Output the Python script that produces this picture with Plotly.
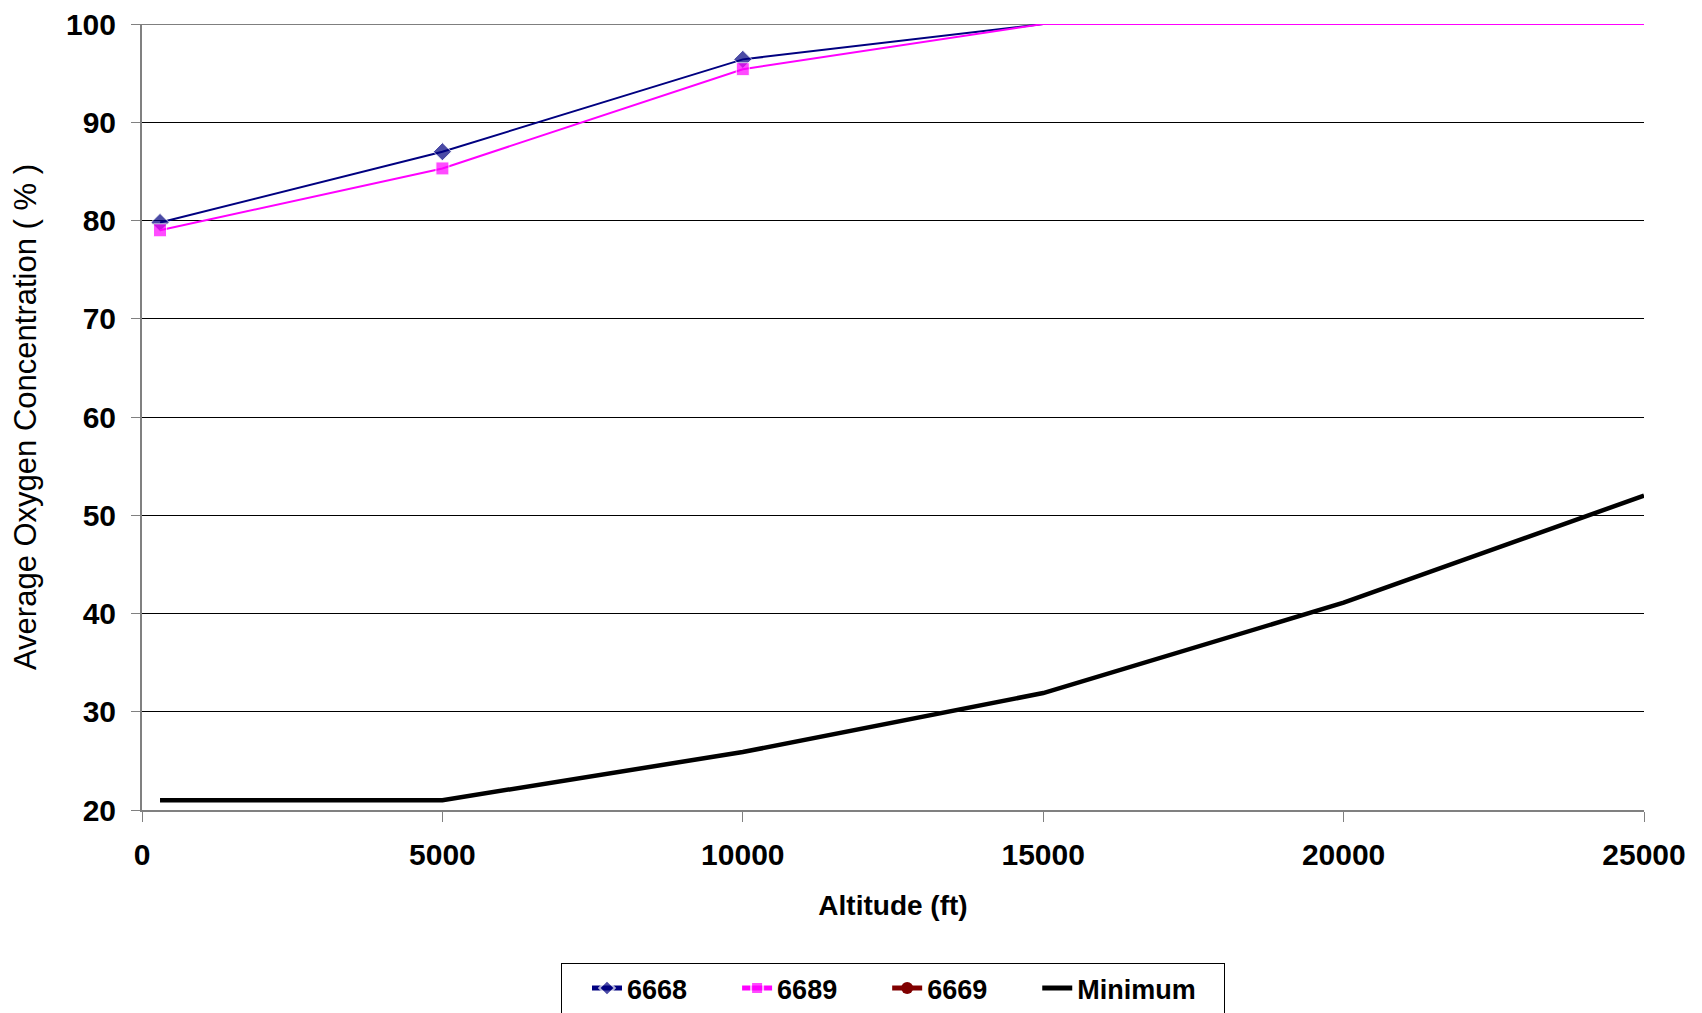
import plotly.graph_objects as go

altitude = [300, 5000, 10000, 15000, 20000, 25000]
s6668 = [79.8, 87.0, 96.4, 100, 100, 100]
s6689 = [79.0, 85.3, 95.4, 100, 100, 100]
s6669 = [None, None, None, None, None, None]
minimum = [21.0, 21.0, 25.9, 31.9, 41.1, 52.0]
x_ticks = [0, 5000, 10000, 15000, 20000, 25000]
y_ticks = [20, 30, 40, 50, 60, 70, 80, 90, 100]

FONT = "Liberation Sans, Arial, sans-serif"
NB = "\u00a0"
PAD = NB * 6  # legend entry spacing

def msizes(vals, s):
    # markers only where the series is below the top of the axis
    return [s if (v is not None and v < 100) else 0 for v in vals]

fig = go.Figure()
fig.add_trace(go.Scatter(x=altitude, y=s6668, name="6668" + PAD, mode="lines+markers",
                         line=dict(color="#000080", width=2),
                         marker=dict(symbol="diamond", size=msizes(s6668, 14), color="#000080"),
                         cliponaxis=False))
fig.add_trace(go.Scatter(x=altitude, y=s6689, name="6689" + PAD, mode="lines+markers",
                         line=dict(color="#FF00FF", width=2),
                         marker=dict(symbol="square", size=msizes(s6689, 13), color="#FF00FF"),
                         cliponaxis=False))
fig.add_trace(go.Scatter(x=altitude, y=s6669, name="6669" + PAD, mode="lines+markers",
                         line=dict(color="#800000", width=2),
                         marker=dict(symbol="circle", size=14, color="#800000")))
fig.add_trace(go.Scatter(x=altitude, y=minimum, name="Minimum" + NB * 3, mode="lines",
                         line=dict(color="#000000", width=4.5),
                         cliponaxis=False))

# top gridline (at the last y tick), drawn beneath the data
fig.add_shape(type="line", xref="paper", x0=0, x1=1, yref="y", y0=y_ticks[-1], y1=y_ticks[-1],
              line=dict(color="black", width=1), layer="below")

fig.update_layout(
    width=1702, height=1013,
    paper_bgcolor="white", plot_bgcolor="white",
    margin=dict(l=134, r=66, t=16, b=211),
    font=dict(family=FONT, size=26, color="black"),
    showlegend=True,
    legend=dict(orientation="h", x=0.5, xanchor="center", xref="paper",
                y=0.0573, yanchor="top", yref="container",
                bordercolor="black", borderwidth=1, bgcolor="white",
                title=dict(text=NB * 2, side="left", font=dict(family=FONT, size=27)),
                font=dict(family=FONT, size=27, color="black", weight="bold"),
                itemsizing="constant", traceorder="normal"),
)
fig.update_xaxes(range=[0, 25000], tickvals=x_ticks, ticktext=[str(t) for t in x_ticks],
                 showgrid=False, zeroline=False, automargin=False,
                 showline=True, linecolor="#808080", linewidth=2,
                 ticks="outside", ticklen=10, tickcolor="#808080", tickwidth=1,
                 tickfont=dict(family=FONT, size=30, weight="bold"),
                 ticklabelstandoff=7, ticklabeloverflow="allow",
                 title=dict(text="Altitude (ft)", font=dict(family=FONT, size=28, weight="bold"), standoff=25))
fig.update_yaxes(range=[20, 100], tickvals=y_ticks,
                 showgrid=True, gridcolor="black", gridwidth=1, zeroline=False, automargin=False,
                 showline=True, linecolor="#808080", linewidth=2,
                 ticks="outside", ticklen=9, tickcolor="#808080", tickwidth=1,
                 tickfont=dict(family=FONT, size=30, weight="bold"),
                 ticklabelstandoff=9, ticklabeloverflow="allow",
                 title=dict(text="Average Oxygen Concentration ( % )", font=dict(family=FONT, size=31), standoff=39))

fig.write_html("out.html")
